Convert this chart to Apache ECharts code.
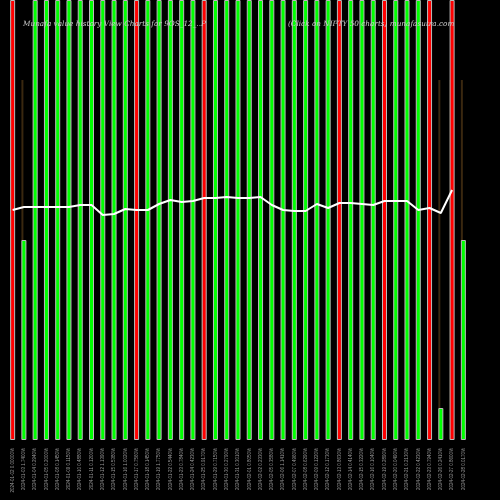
<!DOCTYPE html>
<html><head><meta charset="utf-8">
<script src="https://cdn.jsdelivr.net/npm/echarts@6/dist/echarts.min.js"></script>
<style>html,body{margin:0;background:#000}#c{width:500px;height:500px}</style></head>
<body><div id="c"></div>
<script>
const categories = ["2024-01-02 0.00000%","2024-01-03 1.7400%","2024-01-04 0.2940%","2024-01-05 0.2000%","2024-01-08 0.1450%","2024-01-09 0.1150%","2024-01-10 0.4880%","2024-01-11 0.1200%","2024-01-12 1.1390%","2024-01-15 0.5380%","2024-01-16 1.0020%","2024-01-17 0.7560%","2024-01-18 0.1450%","2024-01-19 1.7750%","2024-01-22 0.5440%","2024-01-23 0.7840%","2024-01-24 0.4230%","2024-01-25 0.9170%","2024-01-29 0.7150%","2024-01-30 0.2790%","2024-01-31 0.3010%","2024-02-01 0.8050%","2024-02-02 0.2330%","2024-02-05 0.3580%","2024-02-06 1.1410%","2024-02-07 0.4960%","2024-02-08 0.6290%","2024-02-09 0.1220%","2024-02-12 0.1730%","2024-02-13 0.8630%","2024-02-14 0.4140%","2024-02-15 0.3220%","2024-02-16 0.1040%","2024-02-19 0.2890%","2024-02-20 0.0490%","2024-02-21 0.2130%","2024-02-22 0.4230%","2024-02-23 0.7940%","2024-02-26 0.2410%","2024-02-27 0.8600%","2024-02-28 0.0170%"];
const barValues = [440,200,440,440,440,440,440,440,440,440,440,440,440,440,440,440,440,440,440,440,440,440,440,440,440,440,440,440,440,440,440,440,440,440,440,440,440,440,32,440,200];
const barUp = [0,1,1,1,1,1,1,1,1,1,1,0,1,1,1,1,1,0,1,1,1,1,1,1,1,1,1,1,1,0,1,1,1,0,1,1,1,0,1,0,1];
const volumeValues = [360,360,360,360,360,360,360,360,360,360,360,360,360,360,360,360,360,360,360,360,360,360,360,360,360,360,360,360,360,360,360,360,360,360,360,360,360,360,360,360,360];
const lineValues = [230,233,233,233,233,233,235,235,225,226,231,230,230,236,240,238,239,242,242,243,242,242,243,235,230,229,229,236,232,237,237,236,235,239,239,239,230,232,227,250,250];
const chart = echarts.init(document.getElementById('c'));
const tStyle = {color:'#ccc',fontSize:7.3,fontStyle:'italic',fontWeight:'normal',fontFamily:'DejaVu Serif'};
chart.setOption({
  backgroundColor:'#000',
  animation:false,
  title:[
    {text:'Munafa value history View Charts for 9OS_12_..P',left:18,top:16,textStyle:tStyle},
    {text:'(Click on NIFTY 50 charts) munafasutra.com',left:283,top:16,textStyle:tStyle}
  ],
  grid:{left:7,right:31,top:0,bottom:60},
  xAxis:{type:'category',data:categories,axisLine:{show:false},axisTick:{show:false},
    axisLabel:{rotate:90,interval:0,color:'#999',fontSize:4.5,margin:8}},
  yAxis:{type:'value',min:0,max:440,show:false,splitLine:{show:false}},
  series:[
    {type:'bar',data:volumeValues,barWidth:2,z:1,itemStyle:{color:'#3a2810'}},
    {type:'bar',data:barValues.map((v,i)=>({value:v,itemStyle:{color:barUp[i]?'#00ff00':'#ff0000'}})),barWidth:5,barGap:'-100%',z:2,
      itemStyle:{borderColor:'#bbb',borderWidth:1}},
    {type:'line',data:lineValues.slice(0,40),symbol:'none',z:3,lineStyle:{color:'#fff',width:2}}
  ]
});
</script></body></html>
